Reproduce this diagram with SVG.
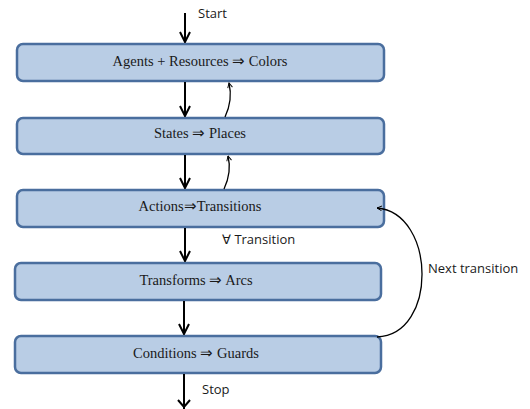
<svg xmlns="http://www.w3.org/2000/svg" width="530" height="409" viewBox="0 0 530 409">
<style>
.box{fill:#B9CDE5;stroke:#4A6E9E;stroke-width:2.5}
.bt{font-family:"Liberation Serif","Times New Roman",serif;font-size:14.5px;fill:#1a1a1a;text-anchor:middle}
.lb{font-family:"Open Sans","Liberation Sans",sans-serif;font-size:13px;fill:#1a1a1a}
.c{fill:none;stroke:#000;stroke-width:2}
.t{fill:none;stroke:#000;stroke-width:1.3}
</style>
<defs>
<marker id="ah" viewBox="0 0 10 10" refX="9" refY="5" markerWidth="6" markerHeight="6" markerUnits="userSpaceOnUse" orient="auto">
<path d="M1,1 L9,5 L1,9" fill="none" stroke="#000" stroke-width="1.6"/>
</marker>
<marker id="big" viewBox="0 0 12 12" refX="11" refY="6" markerWidth="12" markerHeight="12" markerUnits="userSpaceOnUse" orient="auto">
<path d="M1,1 L11,6 L1,11" fill="none" stroke="#000" stroke-width="2"/>
</marker>
</defs>
<g id="n1"><rect class="box" x="17" y="44" width="367" height="37" rx="6"/><text class="bt" x="200" y="66">Agents + Resources ⇒ Colors</text></g>
<g id="n2"><rect class="box" x="17" y="118" width="367" height="36" rx="6"/><text class="bt" x="200" y="138">States ⇒ Places</text></g>
<g id="n3"><rect class="box" x="17" y="190" width="367" height="37" rx="6"/><text class="bt" x="200" y="211">Actions⇒Transitions</text></g>
<g id="n4"><rect class="box" x="15" y="263" width="366" height="37" rx="6"/><text class="bt" x="196" y="285">Transforms ⇒ Arcs</text></g>
<g id="n5"><rect class="box" x="15" y="336" width="366" height="37" rx="6"/><text class="bt" x="196" y="358">Conditions ⇒ Guards</text></g>
<g id="connectors">
<line class="c" x1="185" y1="13" x2="185" y2="42" marker-end="url(#big)"/>
<line class="c" x1="185" y1="82" x2="185" y2="116" marker-end="url(#big)"/>
<line class="c" x1="185" y1="155" x2="185" y2="188" marker-end="url(#big)"/>
<line class="c" x1="185" y1="228" x2="185" y2="261" marker-end="url(#big)"/>
<line class="c" x1="184" y1="301" x2="184" y2="334" marker-end="url(#big)"/>
<line class="c" x1="184" y1="374" x2="184" y2="409"/>
<path d="M178,400 L184,407 L190,400" fill="none" stroke="#000" stroke-width="2"/>
<path class="t" d="M225,117 Q233,100 229,83" marker-end="url(#ah)"/>
<path class="t" d="M224,189 Q232,172 228,156" marker-end="url(#ah)"/>
<path class="t" d="M377,337 C438,335 436,213 377,208" marker-end="url(#ah)"/>
</g>
<text class="lb" x="198" y="18">Start</text>
<text class="lb" x="222" y="244">∀ Transition</text>
<text class="lb" x="428" y="273">Next transition</text>
<text class="lb" x="202" y="394">Stop</text>
</svg>
